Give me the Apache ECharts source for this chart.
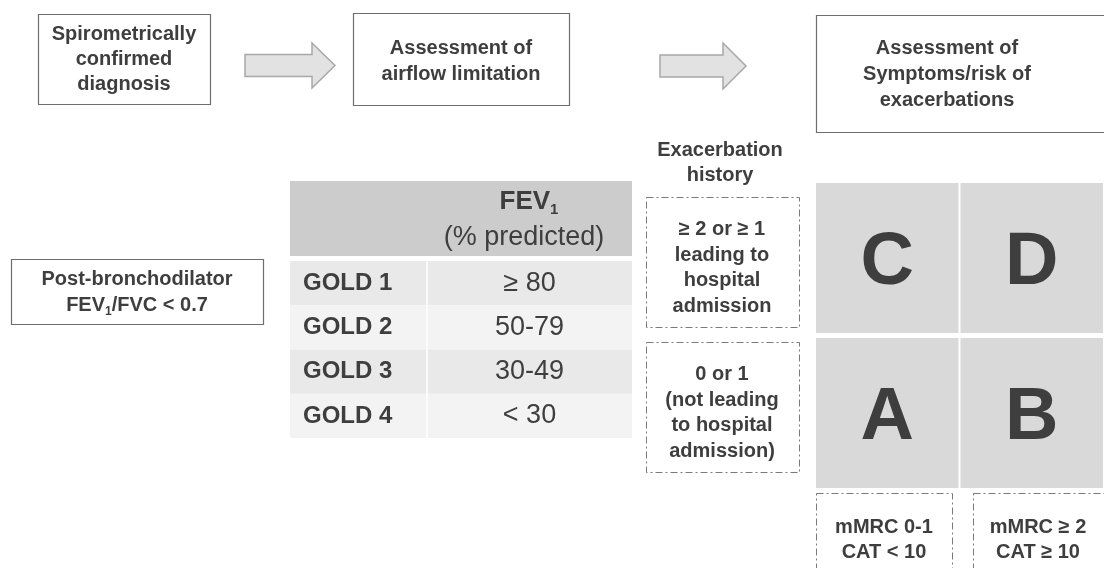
<!DOCTYPE html>
<html>
<head>
<meta charset="utf-8">
<script src="https://cdn.jsdelivr.net/npm/echarts@6/dist/echarts.min.js"></script>
<style>
  html, body { margin: 0; padding: 0; background: #ffffff; }
  #chart { width: 1104px; height: 568px; }
</style>
</head>
<body>
<div id="chart"></div>
<script>
// ---- content ----
const stepBoxes = [
  ['Spirometrically', 'confirmed', 'diagnosis'],
  ['Assessment of', 'airflow limitation'],
  ['Assessment of', 'Symptoms/risk of', 'exacerbations']
];
const criterionLines = ['Post-bronchodilator', 'FEV1/FVC < 0.7'];
const fevHeader = ['FEV1', '(% predicted)'];
const goldStages = ['GOLD 1', 'GOLD 2', 'GOLD 3', 'GOLD 4'];
const fevRanges = ['≥ 80', '50-79', '30-49', '< 30'];
const exacerbationTitle = ['Exacerbation', 'history'];
// ordered bottom -> top (row index 0 = low risk)
const exacerbationLevels = [
  ['0 or 1', '(not leading', 'to hospital', 'admission)'],
  ['≥ 2 or ≥ 1', 'leading to', 'hospital', 'admission']
];
// ordered left -> right
const symptomLevels = [
  ['mMRC 0-1', 'CAT < 10'],
  ['mMRC ≥ 2', 'CAT ≥ 10']
];
// groups[row][col]
const groups = [
  ['A', 'B'],
  ['C', 'D']
];

// ---- styles ----
const FONT = '"Liberation Sans", Arial, sans-serif';
const TXT = '#3e3e3e';
const BORDER = '#6e6e6e';
const DASH = '#7a7a7a';

const chart = echarts.init(document.getElementById('chart'), null, { renderer: 'canvas' });

const groupData = [];
groups.forEach((row, r) => row.forEach((g, c) => groupData.push([c, r, g])));
const goldData = goldStages.map((s, i) => [0, s, fevRanges[i], i]);

function boldText(lines, x, y, size, lh) {
  return {
    type: 'text', x: x, y: y, z: 10,
    style: {
      text: lines.join('\n'), fill: TXT, font: 'bold ' + size + 'px ' + FONT,
      align: 'center', verticalAlign: 'middle', lineHeight: lh
    }
  };
}
function box(x, y, w, h, dashed) {
  return {
    type: 'rect', shape: { x: x + 0.5, y: y + 0.5, width: w, height: h }, z: 5,
    style: dashed
      ? { fill: null, stroke: DASH, lineWidth: 1, lineDash: [7, 3, 2, 3] }
      : { fill: '#ffffff', stroke: BORDER, lineWidth: 1.2 }
  };
}
function arrow(x, yTop, len, headLen, h, shaftH) {
  const yc = yTop + h / 2;
  const hb = x + len - headLen;
  return {
    type: 'polygon', z: 5,
    shape: { points: [
      [x, yc - shaftH / 2], [hb, yc - shaftH / 2], [hb, yTop], [x + len, yc],
      [hb, yTop + h], [hb, yc + shaftH / 2], [x, yc + shaftH / 2]
    ] },
    style: { fill: '#e2e2e2', stroke: '#a8a8a8', lineWidth: 1.5 }
  };
}

const graphics = [
  // step boxes
  box(38, 14, 172, 90), boldText(stepBoxes[0], 124, 59, 20, 25),
  arrow(245, 43, 90, 23, 45, 22),
  box(353, 13, 216, 92), boldText(stepBoxes[1], 461, 61, 20, 26),
  arrow(660, 43, 86, 23, 46, 22),
  box(816, 15, 300, 117), boldText(stepBoxes[2], 947, 74, 20, 26),
  // criterion box
  box(11, 259, 252, 65),
  {
    type: 'text', x: 137, y: 292, z: 10,
    style: {
      text: '{b|' + criterionLines[0] + '}\n{b|FEV}{s|1}{b|' + criterionLines[1].slice(4) + '}',
      align: 'center', verticalAlign: 'middle',
      rich: {
        b: { font: 'bold 20px ' + FONT, fill: TXT, lineHeight: 26 },
        s: { font: 'bold 12px ' + FONT, fill: TXT, lineHeight: 26, verticalAlign: 'bottom' }
      }
    }
  },
  // table header
  { type: 'rect', z: 1, shape: { x: 290, y: 181, width: 342, height: 75 }, style: { fill: '#cccccc' } },
  {
    type: 'text', x: 529, y: 202, z: 10,
    style: {
      text: '{b|' + fevHeader[0].slice(0, 3) + '}{s|' + fevHeader[0].slice(3) + '}',
      align: 'center', verticalAlign: 'middle',
      rich: {
        b: { font: 'bold 26px ' + FONT, fill: TXT, lineHeight: 30 },
        s: { font: 'bold 15px ' + FONT, fill: TXT, lineHeight: 30, verticalAlign: 'bottom' }
      }
    }
  },
  {
    type: 'text', x: 524, y: 238, z: 10,
    style: { text: fevHeader[1], font: '27px ' + FONT, fill: TXT, align: 'center', verticalAlign: 'middle' }
  },
  // exacerbation history
  boldText(exacerbationTitle, 720, 163, 20, 25),
  box(646, 197, 153, 130, true), boldText(exacerbationLevels[1], 722, 268, 20, 25.5),
  box(646, 342, 153, 130, true), boldText(exacerbationLevels[0], 722, 413, 20, 25.5),
  // symptom boxes
  box(816, 493, 136, 90, true), boldText(symptomLevels[0], 884, 540, 20, 25),
  box(973, 493, 136, 90, true), boldText(symptomLevels[1], 1038, 540, 20, 25)
];

const option = {
  backgroundColor: '#ffffff',
  animation: false,
  grid: [
    { left: 290, top: 261, width: 342, height: 177, show: false },
    { left: 815, top: 180.5, width: 300, height: 310, show: false }
  ],
  xAxis: [
    { type: 'value', gridIndex: 0, min: 0, max: 1, show: false },
    { type: 'category', gridIndex: 1, data: symptomLevels.map(l => l.join(' ')), show: false }
  ],
  yAxis: [
    { type: 'category', gridIndex: 0, data: goldStages, inverse: true, show: false },
    { type: 'category', gridIndex: 1, data: exacerbationLevels.map(l => l.join(' ')), show: false }
  ],
  series: [
    {
      type: 'custom', xAxisIndex: 0, yAxisIndex: 0, silent: true,
      data: goldData,
      renderItem: function (params, api) {
        const cs = params.coordSys;
        const idx = api.value(3);
        const c = api.coord([0, idx]);
        const bh = api.size([0, 1])[1];
        const top = c[1] - bh / 2;
        const divX = cs.x + 137;
        return {
          type: 'group',
          children: [
            { type: 'rect', shape: { x: cs.x, y: top, width: cs.width, height: bh },
              style: { fill: idx % 2 === 0 ? '#e9e9e9' : '#f3f3f3' } },
            { type: 'line', shape: { x1: divX, y1: top, x2: divX, y2: top + bh },
              style: { stroke: '#ffffff', lineWidth: 1.5 } },
            { type: 'text', x: cs.x + 13, y: top + bh / 2,
              style: { text: goldStages[idx], font: 'bold 24px ' + FONT, fill: TXT, align: 'left', verticalAlign: 'middle' } },
            { type: 'text', x: divX + (cs.width - 137) / 2, y: top + bh / 2,
              style: { text: fevRanges[idx], font: '27px ' + FONT, fill: TXT, align: 'center', verticalAlign: 'middle' } }
          ]
        };
      }
    },
    {
      type: 'custom', xAxisIndex: 1, yAxisIndex: 1, silent: true,
      data: groupData,
      renderItem: function (params, api) {
        const c = api.coord([api.value(0), api.value(1)]);
        const s = api.size([1, 1]);
        const gx = 1, gy = 2.5;
        return {
          type: 'group',
          children: [
            { type: 'rect', shape: { x: c[0] - s[0] / 2 + gx, y: c[1] - s[1] / 2 + gy, width: s[0] - 2 * gx, height: s[1] - 2 * gy },
              style: { fill: '#d9d9d9' } },
            { type: 'text', x: c[0], y: c[1] + 6,
              style: { text: api.value(2), font: 'bold 74px ' + FONT, fill: TXT, align: 'center', verticalAlign: 'middle' } }
          ]
        };
      }
    }
  ],
  graphic: graphics
};
chart.setOption(option);
</script>
</body>
</html>
